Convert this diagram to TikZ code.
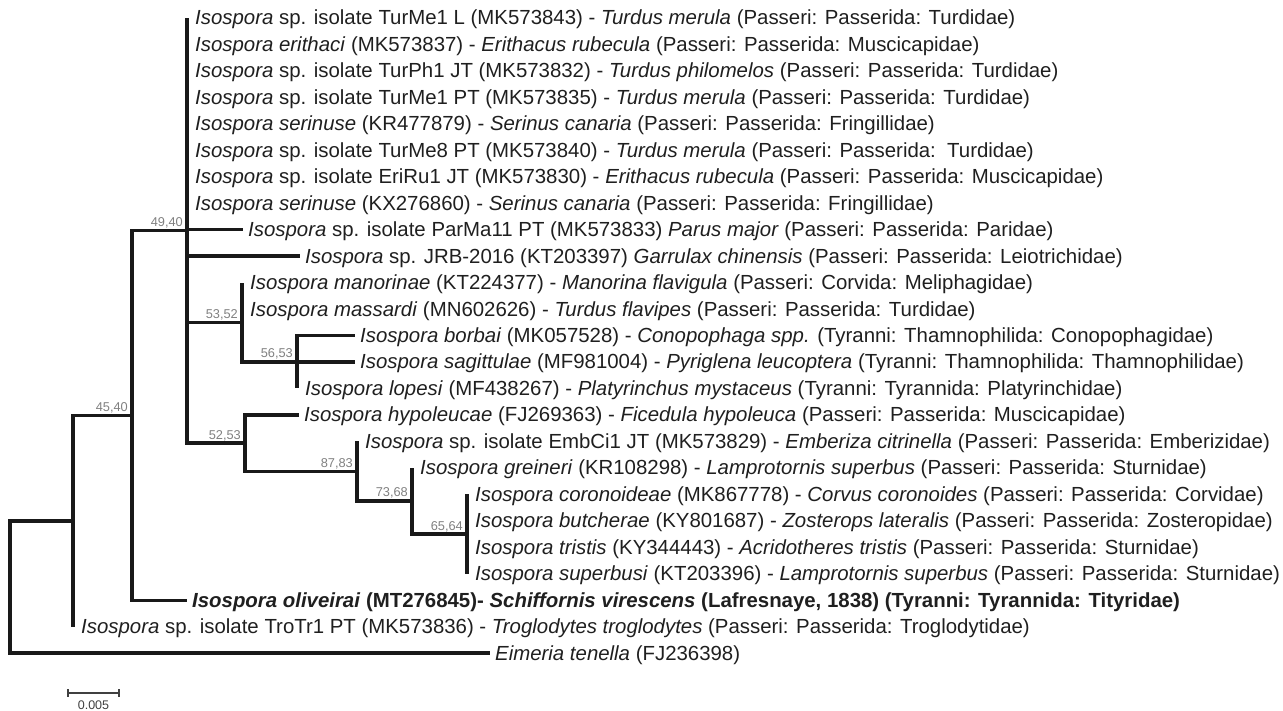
\documentclass[tikz,border=0pt]{standalone}
\usepackage{fontspec}
\setmainfont{Liberation Sans}
\usetikzlibrary{calc}
\begin{document}
\begin{tikzpicture}[x=1pt,y=-1pt,
  br/.style={line width=3.2pt, draw=black!90},
  lf/.style={anchor=base west, inner sep=0pt, yshift=-7pt, font=\fontsize{20.4}{24}\selectfont, text=black!88},
  lz/.style={lf, xshift=8pt},
  lb/.style={lf, xshift=5pt},
  sup/.style={anchor=base east, inner sep=0pt, xshift=-4pt, yshift=4pt, font=\fontsize{12.8}{14}\selectfont, text=black!50},
]
\useasboundingbox (0,0) rectangle (1283,711);
% internal nodes
\coordinate (R) at (10,587.5);
\coordinate (A) at (73,521);
\coordinate (B) at (132,415.3);
\coordinate (C) at (187,230.5);
\coordinate (D) at (242,322.3);
\coordinate (E) at (297,362.0);
\coordinate (F) at (245,443.0);
\coordinate (G) at (357,471.2);
\coordinate (H) at (412,500.9);
\coordinate (I) at (467,534.0);
% leaf tips
\coordinate (t1) at (187,18.0);
\coordinate (t2) at (187,44.5);
\coordinate (t3) at (187,70.9);
\coordinate (t4) at (187,97.4);
\coordinate (t5) at (187,123.8);
\coordinate (t6) at (187,150.3);
\coordinate (t7) at (187,176.8);
\coordinate (t8) at (187,203.2);
\coordinate (t9) at (243,229.7);
\coordinate (t10) at (300,256.1);
\coordinate (t11) at (242,282.6);
\coordinate (t12) at (242,309.1);
\coordinate (t13) at (355,335.5);
\coordinate (t14) at (355,362.0);
\coordinate (t15) at (297,388.4);
\coordinate (t16) at (299,414.9);
\coordinate (t17) at (357,441.4);
\coordinate (t18) at (412,467.8);
\coordinate (t19) at (467,494.3);
\coordinate (t20) at (467,520.7);
\coordinate (t21) at (467,547.2);
\coordinate (t22) at (467,573.7);
\coordinate (t23) at (187,600.1);
\coordinate (t24) at (73,626.6);
\coordinate (t25) at (490,653.0);
% branches
\draw[br] (R) |- (A); \draw[br] (R) |- (t25);
\draw[br] (A) |- (B); \draw[br] (A) |- (t24);
\draw[br] (B) |- (C); \draw[br] (B) |- (t23);
\draw[br] (C) |- (t1); \draw[br] (C) |- (F);
\draw[br] (C) |- (t9); \draw[br] (C) |- (t10); \draw[br] (C) |- (D);
\draw[br] (D) |- (t11); \draw[br] (D) |- (E);
\draw[br] (E) |- (t13); \draw[br] (E) |- (t14); \draw[br] (E) |- (t15);
\draw[br] (F) |- (t16); \draw[br] (F) |- (G);
\draw[br] (G) |- (t17); \draw[br] (G) |- (H);
\draw[br] (H) |- (t18); \draw[br] (H) |- (I);
\draw[br] (I) |- (t19); \draw[br] (I) |- (t22);
% support values
\node[sup] (s1) at (C) {49,40};
\node[sup] (s2) at (B) {45,40};
\node[sup] (s3) at (D) {53,52};
\node[sup] (s4) at (E) {56,53};
\node[sup] (s5) at (F) {52,53};
\node[sup] (s6) at (G) {87,83};
\node[sup] (s7) at (H) {73,68};
\node[sup] (s8) at (I) {65,64};
% leaf labels
\node[lz] (l1) at (t1) {\textit{Isospora} sp. isolate TurMe1 L (MK573843) - \textit{Turdus merula} (Passeri: Passerida: Turdidae)};
\node[lz] (l2) at (t2) {\textit{Isospora erithaci} (MK573837) - \textit{Erithacus rubecula} (Passeri: Passerida: Muscicapidae)};
\node[lz] (l3) at (t3) {\textit{Isospora} sp. isolate TurPh1 JT (MK573832) - \textit{Turdus philomelos} (Passeri: Passerida: Turdidae)};
\node[lz] (l4) at (t4) {\textit{Isospora} sp. isolate TurMe1 PT (MK573835) - \textit{Turdus merula} (Passeri: Passerida: Turdidae)};
\node[lz] (l5) at (t5) {\textit{Isospora serinuse} (KR477879) - \textit{Serinus canaria} (Passeri: Passerida: Fringillidae)};
\node[lz] (l6) at (t6) {\textit{Isospora} sp. isolate TurMe8 PT (MK573840) - \textit{Turdus merula} (Passeri: Passerida:\ \ Turdidae)};
\node[lz] (l7) at (t7) {\textit{Isospora} sp. isolate EriRu1 JT (MK573830) - \textit{Erithacus rubecula} (Passeri: Passerida: Muscicapidae)};
\node[lz] (l8) at (t8) {\textit{Isospora serinuse} (KX276860) - \textit{Serinus canaria} (Passeri: Passerida: Fringillidae)};
\node[lb] (l9) at (t9) {\textit{Isospora} sp. isolate ParMa11 PT (MK573833) \textit{Parus major} (Passeri: Passerida: Paridae)};
\node[lb] (l10) at (t10) {\textit{Isospora} sp. JRB-2016 (KT203397) \textit{Garrulax chinensis} (Passeri: Passerida: Leiotrichidae)};
\node[lz] (l11) at (t11) {\textit{Isospora manorinae} (KT224377) - \textit{Manorina flavigula} (Passeri: Corvida: Meliphagidae)};
\node[lz] (l12) at (t12) {\textit{Isospora massardi} (MN602626) - \textit{Turdus flavipes} (Passeri: Passerida: Turdidae)};
\node[lb] (l13) at (t13) {\textit{Isospora borbai} (MK057528) - \textit{Conopophaga spp.} (Tyranni: Thamnophilida: Conopophagidae)};
\node[lb] (l14) at (t14) {\textit{Isospora sagittulae} (MF981004) - \textit{Pyriglena leucoptera} (Tyranni: Thamnophilida: Thamnophilidae)};
\node[lz] (l15) at (t15) {\textit{Isospora lopesi} (MF438267) - \textit{Platyrinchus mystaceus} (Tyranni: Tyrannida: Platyrinchidae)};
\node[lb] (l16) at (t16) {\textit{Isospora hypoleucae} (FJ269363) - \textit{Ficedula hypoleuca} (Passeri: Passerida: Muscicapidae)};
\node[lz] (l17) at (t17) {\textit{Isospora} sp. isolate EmbCi1 JT (MK573829) - \textit{Emberiza citrinella} (Passeri: Passerida: Emberizidae)};
\node[lz] (l18) at (t18) {\textit{Isospora greineri} (KR108298) - \textit{Lamprotornis superbus} (Passeri: Passerida: Sturnidae)};
\node[lz] (l19) at (t19) {\textit{Isospora coronoideae} (MK867778) - \textit{Corvus coronoides} (Passeri: Passerida: Corvidae)};
\node[lz] (l20) at (t20) {\textit{Isospora butcherae} (KY801687) - \textit{Zosterops lateralis} (Passeri: Passerida: Zosteropidae)};
\node[lz] (l21) at (t21) {\textit{Isospora tristis} (KY344443) - \textit{Acridotheres tristis} (Passeri: Passerida: Sturnidae)};
\node[lz] (l22) at (t22) {\textit{Isospora superbusi} (KT203396) - \textit{Lamprotornis superbus} (Passeri: Passerida: Sturnidae)};
\node[lb, font=\fontsize{20.4}{24}\selectfont\bfseries] (l23) at (t23) {\textit{Isospora oliveirai} (MT276845)- \textit{Schiffornis virescens} (Lafresnaye, 1838) (Tyranni: Tyrannida: Tityridae)};
\node[lz] (l24) at (t24) {\textit{Isospora} sp. isolate TroTr1 PT (MK573836) - \textit{Troglodytes troglodytes} (Passeri: Passerida: Troglodytidae)};
\node[lb] (l25) at (t25) {\textit{Eimeria tenella} (FJ236398)};
% scale bar
\coordinate (sa) at (68,693);
\coordinate (sb) at (119,693);
\draw[line width=1.3pt, draw=black!75] (sa) -- (sb);
\draw[line width=1.3pt, draw=black!75] ($(sa)+(0,-4)$) -- ($(sa)+(0,4)$);
\draw[line width=1.3pt, draw=black!75] ($(sb)+(0,-4)$) -- ($(sb)+(0,4)$);
\node[anchor=base, inner sep=0pt, font=\fontsize{12.5}{14}\selectfont, text=black!75] (sl) at (93.5,709) {0.005};
\end{tikzpicture}
\end{document}
